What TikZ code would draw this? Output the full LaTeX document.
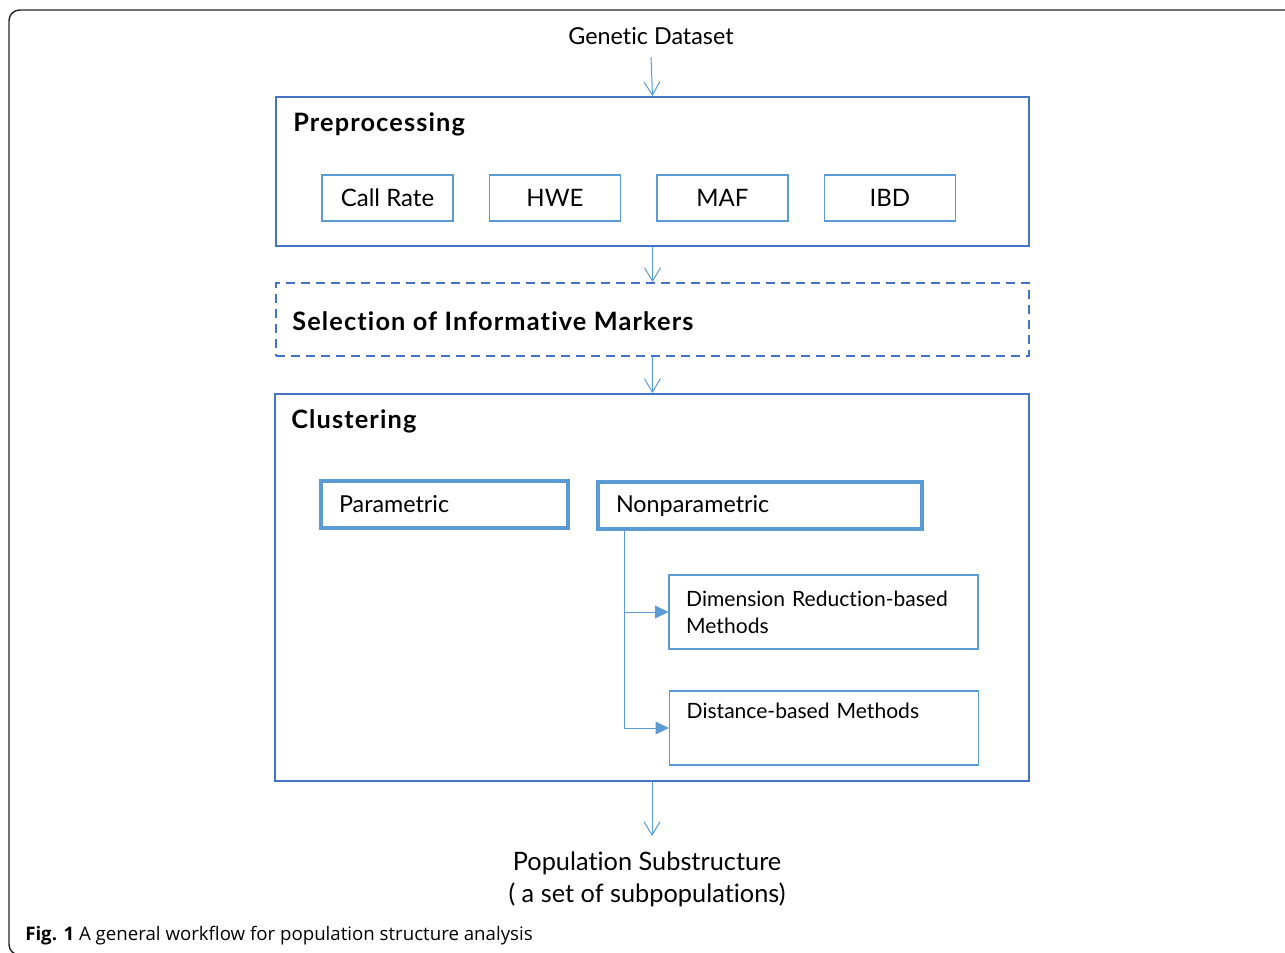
\documentclass[tikz,border=0pt]{standalone}
\usepackage{fontspec}
\setmainfont{Lato}[Ligatures=NoCommon]
\newfontfamily\capfont{Open Sans}
\usetikzlibrary{arrows.meta, positioning}

\definecolor{boxblue}{HTML}{4472C4}
\definecolor{lineblue}{HTML}{5B9BD5}

\tikzset{
  stagebox/.style={draw=boxblue, line width=1.5pt, inner sep=0pt, minimum width=564.75pt},
  stagetitle/.style={anchor=west, inner sep=0pt,
    font=\fontsize{19}{22}\selectfont\bfseries\addfontfeature{LetterSpace=4.5}},
  filterbox/.style={draw=lineblue, line width=1.1pt, minimum width=98.25pt, minimum height=34.5pt,
    inner sep=0pt, font=\fontsize{18}{21}\selectfont},
  kindbox/.style={draw=lineblue, line width=2.5pt, minimum height=35.25pt, inner xsep=13.5pt,
    align=left, font=\fontsize{17.5}{20}\selectfont},
  methodbox/.style={draw=lineblue, line width=1.1pt, minimum height=55.5pt, inner xsep=12.75pt,
    text width=206pt, align=left, font=\fontsize{15.8}{20}\selectfont},
  flow/.style={draw=lineblue, line width=0.75pt, -{Straight Barb[length=10pt,width=12pt]}},
  branch/.style={draw=lineblue, line width=0.75pt, -{Triangle[length=10pt,width=9.5pt]}}
}

\begin{document}
\begin{tikzpicture}[x=0.75pt, y=-0.75pt]
  \useasboundingbox (0,0) rectangle (1285,953);
  \clip (0,0) rectangle (1285,953);
  % frame of the figure
  \draw[line width=1.1pt, black!85, rounded corners=8pt] (1300,10) -- (9,10) -- (9,955) -- (21,955);

  \node[inner sep=0pt, font=\fontsize{17.5}{20}\selectfont] (gd) at (651,36) {Genetic Dataset};

  % preprocessing
  \node[stagebox, minimum height=111.75pt] (pre) at (652.5,171.5) {};
  \node[stagetitle] (pretitle) at (293,124) {Preprocessing};
  \node[filterbox] (cr) at (387.5,198) {Call Rate};
  \node[filterbox, right=26.25pt of cr] (hwe) {HWE};
  \node[filterbox, right=26.25pt of hwe] (maf) {MAF};
  \node[filterbox, right=26.25pt of maf] (ibd) {IBD};

  % marker selection
  \node[stagebox, dash pattern=on 6.75pt off 4.5pt, minimum height=54.75pt] (sel) at (652.5,319.5) {};
  \node[stagetitle] (seltitle) at (292,321) {Selection of Informative Markers};

  % clustering
  \node[stagebox, minimum width=565.5pt, minimum height=290.25pt] (clu) at (652,587.5) {};
  \node[stagetitle] (clutitle) at (291,421) {Clustering};
  \node[kindbox, text width=158.25pt] (par) at (444.5,504.5) {Parametric};
  \node[kindbox, text width=216pt] (npar) at (760,505.5) {Nonparametric};
  \node[methodbox] (dim) at (823.5,612) {Dimension Reduction-based\\Methods};
  \node[methodbox] (dist) at (824,728) {Distance-based Methods\\\strut};

  \node[inner sep=0pt, align=center, font=\fontsize{19}{24}\selectfont] (pop) at (647,879)
    {Population Substructure\\( a set of subpopulations)};

  \draw[flow] (gd.south) ++(0,12) -- (pre.north);
  \draw[flow] (pre) -- (sel);
  \draw[flow] (sel) -- (clu);
  \draw[flow] (clu.south) -- ++(0,54);

  \draw[branch] (npar.south west) ++(28,0) coordinate (stem) |- (dim.west);
  \draw[branch] (stem) |- (dist.west);

  \node[anchor=base west, inner sep=0pt, font=\capfont\fontsize{14}{16}\selectfont] (cap) at (25,940)
    {\textbf{Fig. 1} A general workflow for population structure analysis};
\end{tikzpicture}
\end{document}
